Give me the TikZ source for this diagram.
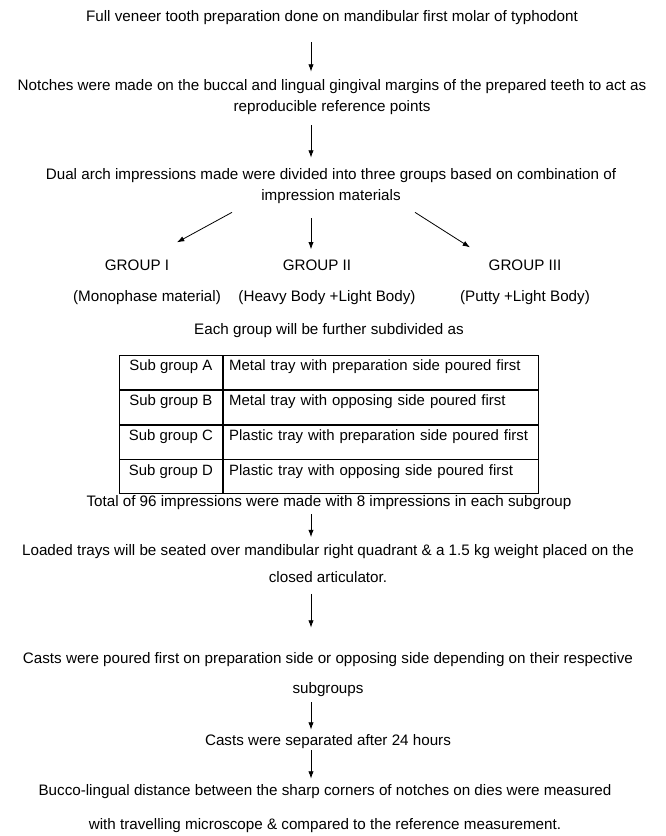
\documentclass[tikz,border=0pt]{standalone}
\usepackage{fontspec}
\setmainfont{Liberation Sans}
\usetikzlibrary{arrows.meta,positioning,calc}

\begin{document}
\begin{tikzpicture}[x=0.75pt,y=-0.75pt,
		txt/.style={inner sep=0pt, align=center, font=\fontsize{11.4pt}{15.75pt}\selectfont},
		flow/.style={-{Latex[length=5.5pt,width=4pt]}, line width=0.6pt},
		cell/.style={draw, line width=0.6pt, inner sep=0pt, text height=11.6pt, text depth=13.9pt, font=\fontsize{11.2pt}{13pt}\selectfont},
		subcell/.style={cell, minimum width=77.25pt, align=center},
		traycell/.style={cell, inner xsep=4.5pt, text width=227.25pt, align=left}]
	\useasboundingbox (0,0) rectangle (665,836);
	\coordinate (spine) at (311,0);

	\node[txt] (prep) at (332,18) {Full veneer tooth preparation done on mandibular first molar of typhodont};
	\node[txt] (notch) at (332,97.5) {Notches were made on the buccal and lingual gingival margins of the prepared teeth to act as\\reproducible reference points};
	\node[txt] (dual) at (331,186.5) {Dual arch impressions made were divided into three groups based on combination of\\impression materials};

	\node[txt] (grpi) at (137,265) {GROUP I};
	\node[txt] (grpii) at (317,265) {GROUP II};
	\node[txt] (grpiii) at (525,265) {GROUP III};
	\node[txt] (mono) at (147,298) {(Monophase material)};
	\node[txt] (heavy) at (327,298) {(Heavy Body +Light Body)};
	\node[txt] (putty) at (525,298) {(Putty +Light Body)};
	\node[txt] (each) at (329,331) {Each group will be further subdivided as};

	\node[subcell, anchor=north west] (suba) at (119,355) {Sub group A};
	\node[subcell, below=0pt of suba] (subb) {Sub group B};
	\node[subcell, below=0pt of subb] (subc) {Sub group C};
	\node[subcell, below=0pt of subc] (subd) {Sub group D};
	\node[traycell, right=0pt of suba] (traya) {Metal tray with preparation side poured first};
	\node[traycell, right=0pt of subb] (trayb) {Metal tray with opposing side poured first};
	\node[traycell, right=0pt of subc] (trayc) {Plastic tray with preparation side poured first};
	\node[traycell, right=0pt of subd] (trayd) {Plastic tray with opposing side poured first};

	\node[txt] (total) at (329,503) {Total of 96 impressions were made with 8 impressions in each subgroup};
	\node[txt] (load) at (328,563.5) {Loaded trays will be seated over mandibular right quadrant \& a 1.5 kg weight placed on the\\[4.5pt]closed articulator.};
	\node[txt] (pour) at (328,675) {Casts were poured first on preparation side or opposing side depending on their respective\\[6.75pt]subgroups};
	\node[txt] (sep) at (328,742) {Casts were separated after 24 hours};
	\node[txt] (bucco) at (325,809) {Bucco-lingual distance between the sharp corners of notches on dies were measured\\[9.75pt]with travelling microscope \& compared to the reference measurement.};

	\draw[flow, shorten <=12.75pt, shorten >=6pt] (prep.south -| spine) -- (notch.north -| spine);
	\draw[flow, shorten <=7.5pt, shorten >=8.25pt] (notch.south -| spine) -- (dual.north -| spine);
	\draw[flow] ($(dual.south)+(-99,8)$) -- ($(grpi.north)+(40,-17)$);
	\draw[flow, shorten <=10.5pt, shorten >=7.5pt] (dual.south -| spine) -- (grpii.north -| spine);
	\draw[flow] ($(dual.south)+(84,8)$) -- ($(grpiii.north)+(-55,-12)$);
	\draw[flow, shorten <=3pt, shorten >=5.25pt] (total.south -| spine) -- (load.north -| spine);
	\draw[flow, shorten <=8.25pt, shorten >=18.75pt] (load.south -| spine) -- (pour.north -| spine);
	\draw[flow, shorten <=3.75pt, shorten >=3.75pt] (pour.south -| spine) -- (sep.north -| spine);
	\draw[flow, shorten <=0.75pt, shorten >=4.5pt] (sep.south -| spine) -- (bucco.north -| spine);
\end{tikzpicture}
\end{document}
